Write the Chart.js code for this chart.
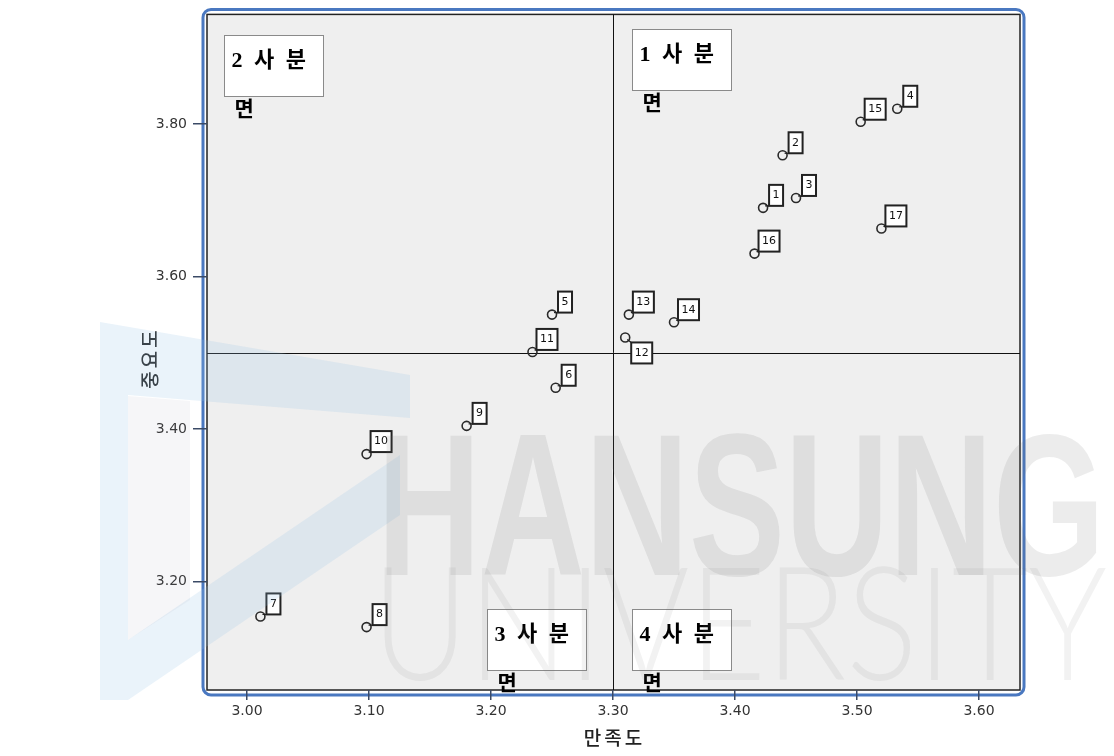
<!DOCTYPE html>
<html>
<head>
<meta charset="utf-8">
<script src="https://cdn.jsdelivr.net/npm/chart.js@4"></script>
<style>
  html, body { margin: 0; padding: 0; background: #fff; }
  #wrap { width: 1114px; height: 756px; }
</style>
</head>
<body>
<div id="wrap"><canvas id="quadChart" width="1114" height="756"></canvas></div>
<script>
// 문항 번호
const itemLabels = ['1', '2', '3', '4', '5', '6', '7', '8', '9', '10', '11', '12', '13', '14', '15', '16', '17'];
// 만족도 (x)
const satisfaction = [3.423, 3.439, 3.450, 3.533, 3.250, 3.253, 3.011, 3.098, 3.180, 3.098, 3.234, 3.310, 3.313, 3.350, 3.503, 3.416, 3.520];
// 중요도 (y)
const importance = [3.690, 3.759, 3.703, 3.820, 3.550, 3.454, 3.154, 3.140, 3.404, 3.367, 3.501, 3.520, 3.550, 3.540, 3.803, 3.630, 3.663];
// 평균 기준선
const meanSatisfaction = 3.30;
const meanImportance = 3.50;
// 축 눈금
const xTicks = [3.00, 3.10, 3.20, 3.30, 3.40, 3.50, 3.60];
const yTicks = [3.20, 3.40, 3.60, 3.80];
// 축 제목, 사분면 이름
const xTitle = '만족도';
const yTitle = '중요도';
const quadrantNames = ['1 사 분', '2 사 분', '3 사 분', '4 사 분'];

const points = satisfaction.map((x, i) => ({ x: x, y: importance[i] }));

// 사분면 상자 (데이터 좌표 기준 왼쪽 위)
const quadBoxes = [
    { name: quadrantNames[0], x: 3.3156, y: 3.9242 },
    { name: quadrantNames[1], x: 2.9810, y: 3.9163 },
    { name: quadrantNames[2], x: 3.1967, y: 3.1634 },
    { name: quadrantNames[3], x: 3.3156, y: 3.1634 }
];

function poly(ctx, pts) {
    ctx.beginPath();
    pts.forEach((p, i) => i ? ctx.lineTo(p[0], p[1]) : ctx.moveTo(p[0], p[1]));
    ctx.closePath();
    ctx.fill();
}

const frameAndWatermark = {
    id: 'frameAndWatermark',
    beforeDraw(chart) {
        const ctx = chart.ctx;
        const a = chart.chartArea;
        ctx.save();
        ctx.fillStyle = '#ffffff';
        ctx.fillRect(0, 0, chart.width, chart.height);
        // 바깥 파란 테두리
        ctx.strokeStyle = '#4a78c0';
        ctx.lineWidth = 3;
        ctx.beginPath();
        ctx.roundRect(a.left - 4, a.top - 5, a.right - a.left + 8, a.bottom - a.top + 10, 8);
        ctx.stroke();
        ctx.fillStyle = '#efefef';
        ctx.fillRect(a.left, a.top, a.right - a.left, a.bottom - a.top);
        ctx.strokeStyle = '#222';
        ctx.lineWidth = 1.5;
        ctx.strokeRect(a.left, a.top, a.right - a.left, a.bottom - a.top);
        // 축 제목
        ctx.fillStyle = '#222';
        ctx.font = '500 19px "Noto Sans CJK KR"';
        ctx.letterSpacing = '3px';
        ctx.textAlign = 'center';
        ctx.textBaseline = 'middle';
        ctx.fillText(xTitle, (a.left + a.right) / 2 + 1, 738);
        ctx.translate(150, 358);
        ctx.rotate(-Math.PI / 2);
        ctx.fillText(yTitle, 0, 0);
        ctx.restore();
    },
    beforeDatasetsDraw(chart) {
        const ctx = chart.ctx;
        const a = chart.chartArea;
        const xs = chart.scales.x, ys = chart.scales.y;
        const mx = Math.round(xs.getPixelForValue(meanSatisfaction)) + 0.5;
        const my = Math.round(ys.getPixelForValue(meanImportance)) + 0.5;
        ctx.save();
        ctx.strokeStyle = '#111';
        ctx.lineWidth = 1;
        ctx.beginPath();
        ctx.moveTo(mx, a.top); ctx.lineTo(mx, a.bottom);
        ctx.moveTo(a.left, my); ctx.lineTo(a.right, my);
        ctx.stroke();
        ctx.restore();
    },
    afterDatasetsDraw(chart) {
        const ctx = chart.ctx;
        const xs = chart.scales.x, ys = chart.scales.y;
        const meta = chart.getDatasetMeta(0);
        ctx.save();
        // 점 번호 상자
        meta.data.forEach((pt, i) => {
            const txt = itemLabels[i];
            const w = txt.length > 1 ? 21 : 14;
            const h = 21;
            let bx, by, cx, cy;
            if (txt === '12') {
                bx = pt.x + 6; by = pt.y + 5; cx = bx; cy = by;
            } else {
                bx = pt.x + (txt.length > 1 ? 4 : 6); by = pt.y - 2 - h; cx = bx; cy = by + h;
            }
            ctx.strokeStyle = '#222';
            ctx.lineWidth = 1.2;
            ctx.beginPath();
            ctx.moveTo(pt.x + 2, pt.y + (txt === '12' ? 2 : -2));
            ctx.lineTo(cx, cy);
            ctx.stroke();
            ctx.fillStyle = '#ffffff';
            ctx.fillRect(bx, by, w, h);
            ctx.lineWidth = 2;
            ctx.strokeRect(bx, by, w, h);
            ctx.fillStyle = '#111';
            ctx.font = '11px "DejaVu Sans"';
            ctx.textAlign = 'center';
            ctx.textBaseline = 'middle';
            ctx.fillText(txt, bx + w / 2, by + h / 2);
        });
        // 사분면 상자
        quadBoxes.forEach(q => {
            const bx = Math.round(xs.getPixelForValue(q.x)) + 0.5;
            const by = Math.round(ys.getPixelForValue(q.y)) + 0.5;
            ctx.fillStyle = '#ffffff';
            ctx.fillRect(bx, by, 99, 61);
            ctx.strokeStyle = '#8a8a8a';
            ctx.lineWidth = 1;
            ctx.strokeRect(bx, by, 99, 61);
            ctx.fillStyle = '#000';
            ctx.textAlign = 'left';
            ctx.textBaseline = 'alphabetic';
            ctx.font = 'bold 22px "Liberation Serif", "Noto Sans CJK KR"';
            ctx.letterSpacing = '3px';
            ctx.fillText(q.name, bx + 7, by + 31);
            ctx.letterSpacing = '0px';
            ctx.font = 'bold 21px "Noto Sans CJK KR"';
            ctx.fillText('면', bx + 10, by + 80);
        });
        ctx.restore();
    },
    afterDraw(chart) {
        const ctx = chart.ctx;
        ctx.save();
        // 워터마크 로고 (대략)
        ctx.fillStyle = 'rgba(150, 195, 230, 0.2)';
        poly(ctx, [[100, 322], [410, 375], [410, 418], [128, 395], [128, 700], [100, 700]]);
        poly(ctx, [[128, 640], [400, 455], [400, 515], [128, 700]]);
        ctx.fillStyle = 'rgba(160, 160, 175, 0.09)';
        poly(ctx, [[128, 396], [190, 401], [190, 600], [128, 640]]);
        ctx.textAlign = 'left';
        ctx.textBaseline = 'alphabetic';
        ctx.fillStyle = 'rgba(110, 110, 110, 0.13)';
        ctx.font = 'bold 202px "Liberation Sans"';
        ctx.fillText('HANSUNG', 377, 575, 728);
        ctx.fillStyle = 'rgba(110, 110, 110, 0.09)';
        ctx.font = '300 158px Lato';
        ctx.fillText('UNIVERSITY', 372, 680, 735);
        ctx.restore();
    }
};

const ctxQuad = document.getElementById('quadChart').getContext('2d');
const quadChart = new Chart(ctxQuad, {
    type: 'scatter',
    data: {
        datasets: [{
            label: '문항',
            data: points,
            pointStyle: 'circle',
            pointRadius: 4.5,
            pointHoverRadius: 4.5,
            pointBorderWidth: 1.6,
            borderColor: '#2a2a2a',
            backgroundColor: 'rgba(0,0,0,0)'
        }]
    },
    options: {
        responsive: false,
        animation: false,
        layout: { padding: { top: 12, right: 94, bottom: 0, left: 0 } },
        plugins: {
            legend: { display: false },
            tooltip: { enabled: false }
        },
        scales: {
            x: {
                type: 'linear',
                min: 2.9672,
                max: 3.6336,
                afterFit: s => { s.height = 66; },
                afterBuildTicks: s => { s.ticks = xTicks.map(v => ({ value: v })); },
                border: { display: false },
                grid: { drawOnChartArea: false, drawTicks: true, tickLength: 10, color: '#3a4a66', lineWidth: 1.5 },
                ticks: {
                    callback: v => v.toFixed(2),
                    color: '#333',
                    font: { family: 'DejaVu Sans', size: 14 },
                    padding: 3,
                    maxRotation: 0
                },
                title: { display: false }
            },
            y: {
                type: 'linear',
                min: 3.0575,
                max: 3.9438,
                afterFit: s => { s.width = 207; },
                afterBuildTicks: s => { s.ticks = yTicks.map(v => ({ value: v })); },
                border: { display: false },
                grid: { drawOnChartArea: false, drawTicks: true, tickLength: 14, color: '#3a4a66', lineWidth: 1.5 },
                ticks: {
                    callback: v => v.toFixed(2),
                    color: '#333',
                    font: { family: 'DejaVu Sans', size: 14 },
                    padding: 6
                },
                title: { display: false }
            }
        }
    },
    plugins: [frameAndWatermark]
});
</script>
</body>
</html>
